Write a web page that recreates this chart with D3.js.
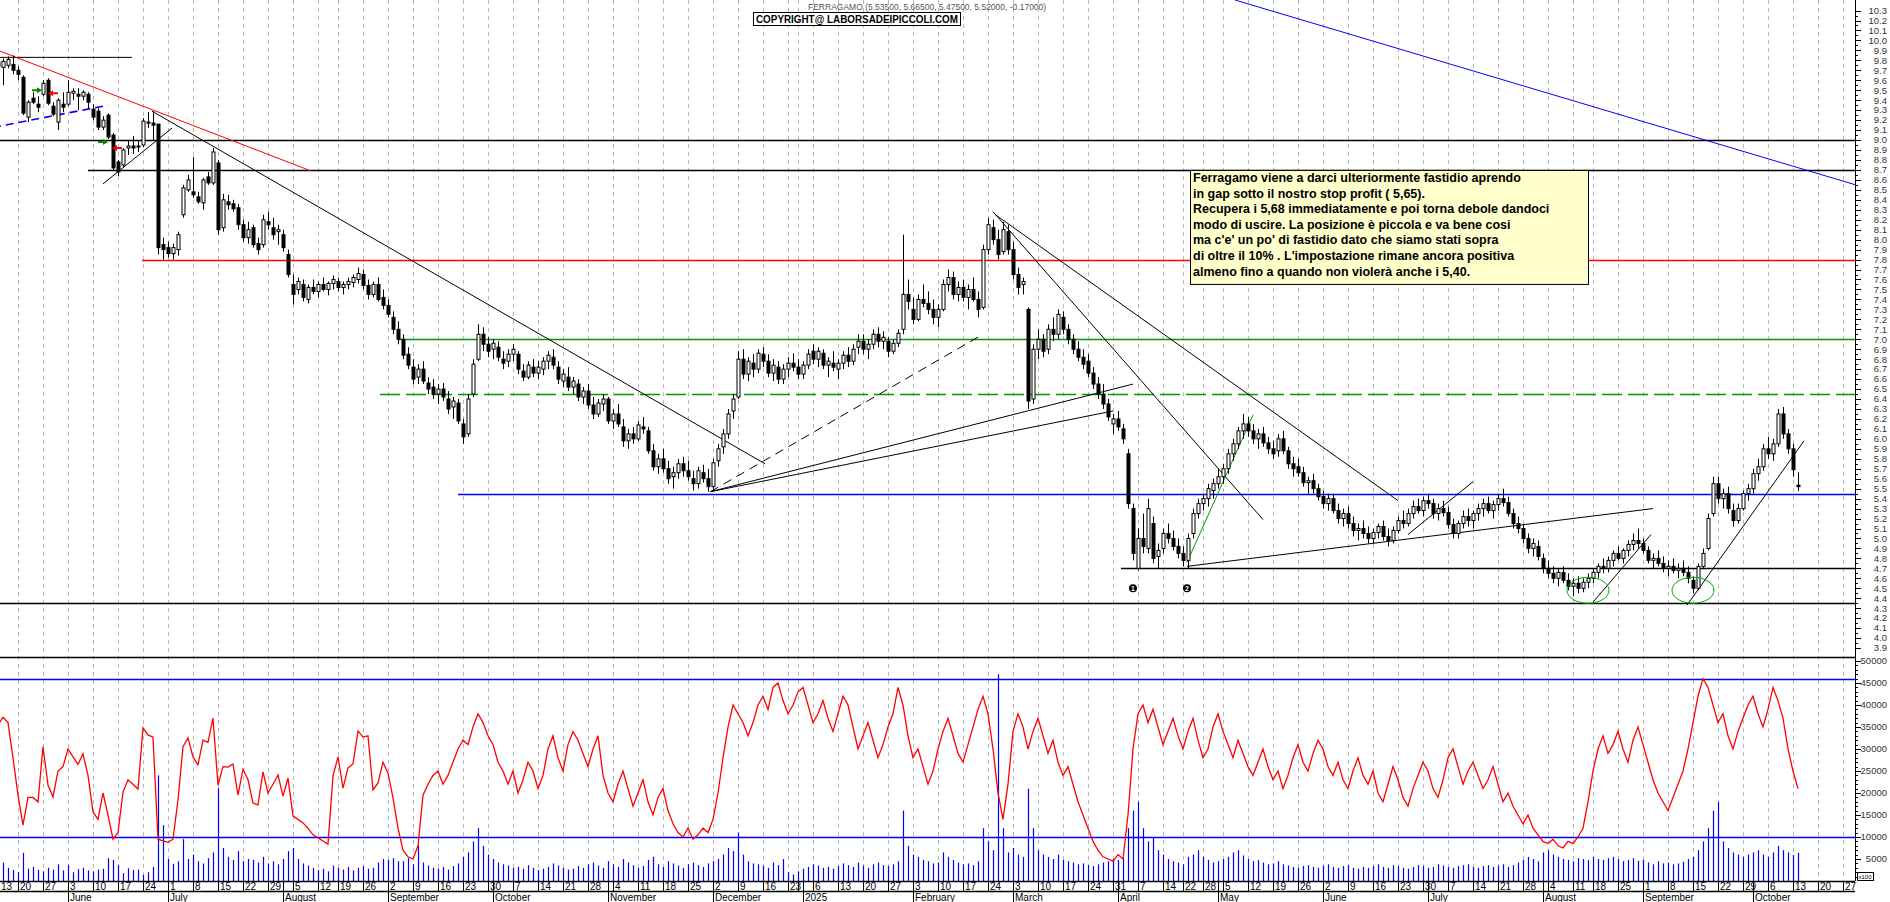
<!DOCTYPE html>
<html lang="it">
<head>
<meta charset="UTF-8">
<title>Ferragamo</title>
<script src="https://d3js.org/d3.v7.min.js"></script>
<style>
  body { margin: 0; background: #fff; }
  svg { display: block; font-family: "Liberation Sans", Arial, sans-serif; }
</style>
</head>
<body>
<svg id="chart" width="1890" height="902"></svg>
<script>
// ---- trading calendar (Borsa Italiana closures) ----
const firstDay = "2024-05-13";
const holidays = ["2024-08-15", "2024-12-24", "2024-12-25", "2024-12-26", "2024-12-31",
  "2025-01-01", "2025-04-18", "2025-04-21", "2025-05-01", "2025-08-15"];
const monthNames = ["2025", "February", "March", "April", "May", "June", "July",
  "August", "September", "October", "November", "December"];

// ---- daily prices, one row per week ----
const open = [
  9.72, 9.78, 9.73, 9.75, 9.76,
  9.70, 9.63, 9.23, 9.42, 9.36,
  9.46, 9.60, 9.34, 9.18, 9.36,
  9.36, 9.47, 9.46, 9.44, 9.46,
  9.31, 9.29, 9.13, 9.25, 9.05,
  8.78, 8.75, 8.92, 8.94, 8.93,
  8.95, 9.18, 9.17, 9.16, 7.95,
  7.92, 7.86, 7.90, 8.25, 8.50,
  8.48, 8.43, 8.37, 8.63, 8.57,
  8.77, 8.12, 8.38, 8.36, 8.32,
  8.15, 8.02, 8.12, 7.96, 7.95,
  8.18, 8.12, 8.08, 8.05, 7.85,
  7.55, 7.50, 7.55, 7.40, 7.52,
  7.48, 7.55, 7.50, 7.56,
  7.58, 7.52, 7.55, 7.57, 7.60,
  7.65, 7.54, 7.45, 7.55, 7.42,
  7.34, 7.22, 7.10, 7.00, 6.85,
  6.72, 6.62, 6.70, 6.56, 6.52,
  6.45, 6.50, 6.40, 6.32, 6.36,
  6.15, 6.05, 6.45, 6.80, 7.05,
  6.95, 6.90, 6.92, 6.80, 6.78,
  6.85, 6.85, 6.68, 6.62, 6.72,
  6.66, 6.70, 6.78, 6.82, 6.72,
  6.58, 6.62, 6.52, 6.55, 6.42,
  6.48, 6.34, 6.25, 6.35, 6.40,
  6.18, 6.25, 6.12, 5.98, 6.05,
  6.00, 6.12, 6.08, 5.88, 5.72,
  5.80, 5.70, 5.62, 5.66, 5.75,
  5.68, 5.60, 5.55, 5.66, 5.60,
  5.52, 5.78, 5.92, 6.05, 6.28,
  6.42, 6.80, 6.65, 6.76, 6.70,
  6.85, 6.78, 6.66, 6.72, 6.60,
  6.70, 6.76,
  6.72, 6.65, 6.74,
  6.88, 6.80, 6.86, 6.74, 6.76,
  6.70, 6.76, 6.84, 6.78, 6.92,
  6.98, 6.90, 6.95, 7.05, 6.98,
  6.98, 6.88, 6.96, 7.10, 7.45,
  7.30, 7.20, 7.40, 7.36, 7.30,
  7.22, 7.30, 7.55, 7.62, 7.45,
  7.52, 7.42, 7.50, 7.40, 7.32,
  7.90, 8.12, 8.00, 7.88, 8.08,
  7.90, 7.65, 7.55, 7.30, 6.40,
  6.90, 7.00, 6.90, 7.10, 7.05,
  7.22, 7.10, 7.00, 6.90, 6.82,
  6.78, 6.66, 6.55, 6.45, 6.35,
  6.15, 6.20, 6.10, 5.85, 5.30,
  4.70, 5.00, 4.90, 5.15, 4.82,
  4.90, 5.05, 5.00, 4.92,
  4.85, 4.78, 5.05, 5.25,
  5.35, 5.40, 5.48, 5.55,
  5.62, 5.70, 5.85, 5.95, 6.08,
  6.15, 6.08, 6.00, 6.05, 5.96,
  5.90, 5.88, 6.00, 5.88, 5.75,
  5.72, 5.66, 5.56, 5.58, 5.50,
  5.42, 5.35, 5.40, 5.28, 5.20,
  5.25, 5.15, 5.08, 5.10, 5.05,
  5.00, 5.06, 5.12, 5.02, 4.98,
  5.08, 5.18, 5.15, 5.25, 5.32,
  5.28, 5.38, 5.35, 5.25, 5.30,
  5.26, 5.14, 5.05, 5.15, 5.22,
  5.18, 5.25, 5.30, 5.35, 5.28,
  5.34, 5.40, 5.36, 5.25, 5.15,
  5.10, 5.00, 4.90, 4.92, 4.80,
  4.70, 4.65, 4.60, 4.66, 4.58,
  4.52, 4.55, 4.50, 4.56,
  4.60, 4.66, 4.72, 4.70, 4.78,
  4.85, 4.80, 4.88, 4.94, 4.98,
  4.95, 4.88, 4.78, 4.80, 4.75,
  4.70, 4.72, 4.68, 4.70, 4.66,
  4.58, 4.50, 4.72, 4.90, 5.25,
  5.55, 5.40, 5.45, 5.28, 5.18,
  5.30, 5.45, 5.50, 5.65, 5.72,
  5.90, 5.85, 5.95, 6.25, 6.05,
  5.90, 5.535
];
const high = [
  9.85, 9.86, 9.82, 9.84, 9.85,
  9.74, 9.65, 9.40, 9.48, 9.44,
  9.60, 9.62, 9.38, 9.42, 9.48,
  9.60, 9.52, 9.52, 9.50, 9.48,
  9.36, 9.32, 9.24, 9.27, 9.07,
  8.80, 8.92, 9.00, 9.04, 9.00,
  9.22, 9.28, 9.29, 9.16, 8.02,
  7.98, 7.96, 8.08, 8.55, 8.65,
  8.83, 8.48, 8.62, 8.68, 8.92,
  8.80, 8.46, 8.45, 8.40, 8.36,
  8.20, 8.18, 8.15, 8.02, 8.25,
  8.28, 8.22, 8.15, 8.10, 7.90,
  7.65, 7.62, 7.60, 7.55, 7.60,
  7.58, 7.62, 7.58, 7.64,
  7.62, 7.58, 7.62, 7.65, 7.72,
  7.70, 7.60, 7.58, 7.62, 7.50,
  7.40, 7.28, 7.18, 7.05, 6.92,
  6.80, 6.75, 6.78, 6.62, 6.60,
  6.55, 6.56, 6.48, 6.42, 6.40,
  6.20, 6.45, 6.80, 7.15, 7.12,
  7.02, 7.00, 6.98, 6.88, 6.90,
  6.95, 6.88, 6.75, 6.78, 6.80,
  6.78, 6.82, 6.88, 6.90, 6.78,
  6.70, 6.72, 6.62, 6.60, 6.52,
  6.55, 6.42, 6.40, 6.45, 6.42,
  6.30, 6.35, 6.20, 6.10, 6.12,
  6.18, 6.22, 6.12, 5.95, 5.85,
  5.90, 5.78, 5.72, 5.80, 5.82,
  5.78, 5.68, 5.72, 5.74, 5.70,
  5.80, 5.95, 6.10, 6.30, 6.45,
  6.88, 6.90, 6.82, 6.85, 6.90,
  6.92, 6.85, 6.80, 6.78, 6.75,
  6.82, 6.86,
  6.80, 6.78, 6.90,
  6.95, 6.92, 6.90, 6.82, 6.88,
  6.80, 6.88, 6.92, 6.95, 7.05,
  7.05, 7.00, 7.10, 7.12, 7.08,
  7.02, 7.00, 7.10, 8.05, 7.60,
  7.42, 7.45, 7.55, 7.48, 7.40,
  7.35, 7.60, 7.70, 7.68, 7.58,
  7.60, 7.55, 7.62, 7.48, 7.95,
  8.22, 8.20, 8.10, 8.18, 8.15,
  7.98, 7.72, 7.62, 7.32, 6.95,
  7.10, 7.05, 7.15, 7.22, 7.30,
  7.28, 7.15, 7.05, 6.98, 6.90,
  6.85, 6.72, 6.62, 6.55, 6.40,
  6.25, 6.28, 6.15, 5.90, 5.35,
  5.10, 5.25, 5.40, 5.22, 4.95,
  5.10, 5.15, 5.08, 5.00,
  4.92, 5.05, 5.30, 5.40,
  5.45, 5.55, 5.60, 5.70,
  5.75, 5.90, 6.00, 6.12, 6.25,
  6.22, 6.15, 6.10, 6.12, 6.02,
  5.98, 6.05, 6.08, 5.92, 5.82,
  5.80, 5.72, 5.62, 5.65, 5.55,
  5.48, 5.45, 5.45, 5.35, 5.30,
  5.32, 5.22, 5.15, 5.18, 5.12,
  5.10, 5.15, 5.18, 5.10, 5.12,
  5.22, 5.28, 5.30, 5.38, 5.40,
  5.42, 5.45, 5.40, 5.35, 5.38,
  5.32, 5.20, 5.18, 5.28, 5.30,
  5.28, 5.35, 5.40, 5.42, 5.38,
  5.45, 5.50, 5.42, 5.30, 5.22,
  5.15, 5.05, 5.00, 4.98, 4.85,
  4.78, 4.72, 4.70, 4.72, 4.65,
  4.60, 4.62, 4.60, 4.65,
  4.70, 4.75, 4.80, 4.82, 4.88,
  4.92, 4.90, 4.98, 5.05, 5.10,
  5.00, 4.92, 4.85, 4.88, 4.82,
  4.78, 4.80, 4.75, 4.78, 4.72,
  4.62, 4.75, 4.90, 5.25, 5.62,
  5.62, 5.50, 5.52, 5.35, 5.35,
  5.48, 5.55, 5.70, 5.80, 5.95,
  6.02, 6.00, 6.30, 6.32, 6.10,
  5.95, 5.665
];
const low = [
  9.65, 9.70, 9.55, 9.72, 9.66,
  9.60, 9.25, 9.18, 9.36, 9.28,
  9.44, 9.35, 9.24, 9.10, 9.28,
  9.34, 9.40, 9.30, 9.40, 9.32,
  9.20, 9.10, 9.10, 9.01, 8.70,
  8.64, 8.72, 8.85, 8.86, 8.88,
  8.93, 9.12, 9.00, 7.85, 7.80,
  7.82, 7.80, 7.84, 8.22, 8.48,
  8.42, 8.36, 8.30, 8.55, 8.55,
  8.05, 8.08, 8.30, 8.28, 8.10,
  7.98, 7.96, 7.92, 7.85, 7.92,
  8.10, 8.00, 7.95, 7.88, 7.62,
  7.35, 7.45, 7.38, 7.36, 7.45,
  7.42, 7.48, 7.44, 7.50,
  7.48, 7.45, 7.50, 7.52, 7.56,
  7.50, 7.40, 7.42, 7.38, 7.30,
  7.22, 7.05, 6.95, 6.80, 6.70,
  6.55, 6.55, 6.55, 6.45, 6.40,
  6.35, 6.38, 6.25, 6.20, 6.15,
  5.95, 6.02, 6.42, 6.78, 6.88,
  6.82, 6.80, 6.78, 6.70, 6.72,
  6.78, 6.65, 6.58, 6.60, 6.62,
  6.60, 6.64, 6.70, 6.70, 6.55,
  6.52, 6.48, 6.45, 6.38, 6.35,
  6.30, 6.20, 6.22, 6.28, 6.15,
  6.10, 6.12, 5.92, 5.90, 5.95,
  5.98, 6.05, 5.85, 5.68, 5.65,
  5.66, 5.55, 5.50, 5.60, 5.62,
  5.58, 5.48, 5.50, 5.56, 5.47,
  5.48, 5.72, 5.85, 6.00, 6.20,
  6.40, 6.60, 6.58, 6.62, 6.66,
  6.72, 6.62, 6.58, 6.55, 6.55,
  6.62, 6.68,
  6.60, 6.60, 6.70,
  6.75, 6.72, 6.70, 6.62, 6.68,
  6.60, 6.70, 6.72, 6.74, 6.85,
  6.85, 6.80, 6.90, 6.92, 6.90,
  6.82, 6.85, 6.92, 7.05, 7.30,
  7.15, 7.18, 7.32, 7.25, 7.15,
  7.12, 7.28, 7.48, 7.40, 7.38,
  7.38, 7.30, 7.38, 7.22, 7.30,
  7.85, 7.95, 7.80, 7.85, 7.85,
  7.60, 7.45, 7.45, 6.30, 6.35,
  6.80, 6.82, 6.85, 6.98, 7.00,
  7.05, 6.95, 6.85, 6.78, 6.70,
  6.62, 6.50, 6.40, 6.30, 6.18,
  6.05, 6.08, 5.95, 5.30, 4.78,
  4.68, 4.85, 4.85, 4.75, 4.70,
  4.85, 4.95, 4.88, 4.80,
  4.72, 4.70, 5.00, 5.20,
  5.28, 5.32, 5.40, 5.50,
  5.55, 5.65, 5.78, 5.90, 6.00,
  6.02, 5.95, 5.90, 5.92, 5.85,
  5.80, 5.82, 5.85, 5.70, 5.62,
  5.62, 5.52, 5.45, 5.45, 5.38,
  5.30, 5.28, 5.25, 5.15, 5.12,
  5.10, 5.02, 4.98, 5.00, 4.95,
  4.95, 5.00, 4.98, 4.92, 4.95,
  5.05, 5.10, 5.12, 5.20, 5.25,
  5.22, 5.30, 5.20, 5.18, 5.22,
  5.10, 5.00, 5.00, 5.10, 5.12,
  5.10, 5.18, 5.22, 5.25, 5.20,
  5.28, 5.32, 5.22, 5.10, 5.05,
  4.95, 4.85, 4.82, 4.78, 4.65,
  4.60, 4.55, 4.52, 4.55, 4.48,
  4.42, 4.45, 4.46, 4.50,
  4.55, 4.60, 4.65, 4.66, 4.72,
  4.78, 4.75, 4.82, 4.88, 4.90,
  4.85, 4.75, 4.70, 4.72, 4.66,
  4.62, 4.65, 4.60, 4.62, 4.55,
  4.45, 4.48, 4.70, 4.88, 5.22,
  5.35, 5.30, 5.25, 5.12, 5.15,
  5.28, 5.38, 5.45, 5.58, 5.68,
  5.80, 5.78, 5.92, 6.00, 5.85,
  5.62, 5.475
];
const close = [
  9.78, 9.74, 9.79, 9.81, 9.70,
  9.66, 9.27, 9.38, 9.38, 9.33,
  9.57, 9.37, 9.26, 9.40, 9.33,
  9.48, 9.49, 9.44, 9.48, 9.38,
  9.23, 9.13, 9.20, 9.03, 8.72,
  8.68, 8.90, 8.94, 8.92, 8.94,
  9.19, 9.17, 9.15, 7.92, 7.90,
  7.86, 7.92, 8.05, 8.52, 8.60,
  8.45, 8.38, 8.60, 8.57, 8.88,
  8.10, 8.40, 8.35, 8.31, 8.15,
  8.02, 8.10, 7.95, 7.90, 8.20,
  8.15, 8.05, 8.10, 7.92, 7.65,
  7.45, 7.58, 7.42, 7.52, 7.48,
  7.55, 7.50, 7.56, 7.60,
  7.52, 7.55, 7.58, 7.62, 7.66,
  7.54, 7.45, 7.55, 7.40, 7.34,
  7.25, 7.10, 7.00, 6.84, 6.74,
  6.60, 6.70, 6.58, 6.50, 6.45,
  6.50, 6.42, 6.30, 6.38, 6.18,
  6.02, 6.40, 6.75, 7.05, 6.95,
  6.88, 6.96, 6.82, 6.76, 6.85,
  6.90, 6.70, 6.62, 6.74, 6.66,
  6.72, 6.78, 6.84, 6.74, 6.60,
  6.65, 6.52, 6.58, 6.42, 6.48,
  6.34, 6.25, 6.36, 6.40, 6.18,
  6.25, 6.15, 5.98, 6.05, 6.00,
  6.14, 6.10, 5.88, 5.72, 5.80,
  5.70, 5.60, 5.66, 5.75, 5.68,
  5.62, 5.55, 5.68, 5.60, 5.52,
  5.76, 5.90, 6.05, 6.25, 6.40,
  6.80, 6.65, 6.78, 6.70, 6.86,
  6.78, 6.66, 6.74, 6.60, 6.70,
  6.76, 6.72,
  6.65, 6.74, 6.85,
  6.80, 6.88, 6.74, 6.78, 6.72,
  6.76, 6.84, 6.78, 6.90, 6.98,
  6.90, 6.95, 7.05, 6.98, 7.02,
  6.88, 6.96, 7.06, 7.45, 7.38,
  7.20, 7.40, 7.36, 7.30, 7.22,
  7.30, 7.55, 7.62, 7.45, 7.52,
  7.42, 7.50, 7.40, 7.30, 7.90,
  8.15, 8.00, 7.85, 8.10, 7.90,
  7.65, 7.52, 7.58, 6.38, 6.90,
  7.00, 6.88, 7.10, 7.05, 7.25,
  7.10, 7.00, 6.90, 6.82, 6.75,
  6.66, 6.55, 6.45, 6.35, 6.22,
  6.20, 6.12, 6.00, 5.35, 4.85,
  5.00, 4.92, 5.30, 4.80, 4.88,
  5.05, 5.00, 4.92, 4.85,
  4.78, 5.00, 5.25, 5.35,
  5.40, 5.50, 5.55, 5.62,
  5.70, 5.85, 5.95, 6.08, 6.15,
  6.08, 6.00, 6.05, 5.96, 5.90,
  5.85, 6.00, 5.88, 5.75, 5.70,
  5.66, 5.56, 5.58, 5.50, 5.42,
  5.35, 5.40, 5.28, 5.20, 5.25,
  5.15, 5.08, 5.10, 5.05, 5.00,
  5.06, 5.12, 5.02, 4.98, 5.08,
  5.18, 5.15, 5.25, 5.32, 5.28,
  5.38, 5.35, 5.25, 5.30, 5.26,
  5.14, 5.05, 5.15, 5.22, 5.18,
  5.25, 5.30, 5.35, 5.28, 5.34,
  5.40, 5.36, 5.25, 5.15, 5.10,
  5.00, 4.90, 4.95, 4.82, 4.70,
  4.65, 4.60, 4.66, 4.58, 4.52,
  4.55, 4.50, 4.56, 4.60,
  4.66, 4.72, 4.70, 4.78, 4.85,
  4.80, 4.88, 4.94, 4.98, 4.95,
  4.88, 4.78, 4.80, 4.75, 4.70,
  4.72, 4.68, 4.70, 4.66, 4.60,
  4.50, 4.72, 4.85, 5.20, 5.55,
  5.40, 5.45, 5.30, 5.18, 5.30,
  5.45, 5.50, 5.65, 5.72, 5.90,
  5.85, 5.95, 6.25, 6.05, 5.90,
  5.69, 5.52
];

// ---- volume (x100) and the red indicator line ----
const volume = [
  3500, 2800, 4200, 3000, 2500, 2000, 6400, 2800, 3200, 2500, 2200, 3000, 2600, 3800, 2400, 3600, 2000,
  2700, 3000, 2400, 2200, 2600, 2800, 5200, 4800, 3600, 1800, 2900, 2500, 2600, 1400, 2000, 3200,
  24000, 12700, 5000, 3900, 4500, 9500, 5000, 6000, 4500, 4000, 5200, 6500, 21100, 7500, 5500, 4800,
  6800, 4500, 5000, 4800, 4200, 5500, 4000, 4500, 3800, 5000, 6800, 7500, 5000, 4000, 3500, 3000,
  2500, 2800, 2200, 3500, 3000, 2600, 3200, 2400, 3000, 3400, 2800, 3000, 4200, 5000, 4800, 5200, 4500,
  4500, 5200, 3800, 8000, 4200, 3500, 3000, 2800, 3200, 2600, 3400, 4000, 5500, 6500, 9000, 12000, 8000, 6000,
  5000, 4200, 3800, 3500, 3000, 3200, 2800, 3600, 3000, 2500, 2800, 3200, 4000, 3500, 3000, 2600, 2800,
  3400, 3000, 3800, 4200, 3500, 3000, 4500, 3800, 3200, 5000, 4200, 3600, 3000, 3400, 4800, 5500, 3800,
  3200, 4500, 4000, 3500, 3000, 3800, 4200, 3600, 3200, 4000,
  4500, 5000, 6000, 7500, 6800, 11000, 6000, 4500, 4000, 3800, 3500, 3000, 4200, 3600, 5000, 2000, 1500,
  2200, 2800, 3200, 3800, 3500, 3000, 3200, 2800, 3400, 4000, 3600, 3200, 4200, 3500, 3000, 3800, 4200,
  3600, 3400, 3800, 4500, 16000, 8000,
  6000, 5500, 4800, 4500, 4000, 4200, 6500, 5500, 4800, 4200, 3800, 4000, 3600, 4500, 12000, 9000, 7000,
  47000, 12000, 6500, 7500, 6000, 5500, 21000, 12000, 7000, 6000,
  5500, 5000, 6000, 4800, 4500, 4200, 3800, 4000, 3600, 3400, 3800, 4200, 4500, 5000, 4800, 5200, 12000,
  16000, 18000, 12000, 9000, 10000, 7000, 6000, 5000, 4500, 4200, 3800, 5500, 6000, 7000, 5500, 4800, 4200, 4500,
  5000, 5500, 6500, 7000, 5800, 5000, 4500, 4800, 4200, 3800, 4000, 4500, 3800, 3500, 3200, 3000, 3400,
  3600, 3200, 3000, 3500, 3800, 3200, 3000, 3400, 3600, 3000, 2800, 3200, 3000, 3400, 3800, 3200, 3000,
  3600, 3400, 3000, 2800, 3200, 3600, 3400, 3000, 3200, 3800, 3500, 3200, 3000, 3400, 3600, 3800, 3200,
  3000, 3400, 3600, 3200,
  3500, 3800, 3200, 3600, 4200, 4800, 5500, 5000, 4500, 6500, 7000, 6000, 5500, 5000, 4800, 4500, 5200,
  5000, 4800, 5500, 5000, 4800, 5200, 5500, 5000, 4500, 4800, 5200, 4600, 4800, 4200, 3800, 4500, 4000,
  4200, 3800, 4000, 4400, 5000, 5500, 7000, 9000, 12000, 16000, 18000, 9000, 7500, 6500, 6000, 5500,
  6000, 6500, 7000, 6000, 5500, 6500, 8000, 7000, 6500, 5900, 6400
];
const volLine = [
  33000, 35500, 37200, 36000, 28000, 19500, 12700, 19000, 19000, 18000,
  30500, 21800, 19100, 25000, 26000, 30000, 28200, 26500, 28900, 24000,
  15700, 14000, 20000, 15000, 9500, 11000, 20200, 23000, 22000, 20900,
  34800, 33200, 32700, 9500, 9100, 8800, 9500, 18400, 30500, 32500,
  28200, 26400, 32000, 31500, 37000, 21800, 26000, 25900, 26600, 19500,
  25400, 23000, 17700, 17300, 24800, 20000, 22000, 24100, 19300, 23400,
  14800, 14000, 13200, 12000, 10500, 9800, 9100, 8400, 23900, 28200,
  21100, 25700, 26600, 34100, 32700, 33000, 20700, 22300, 27000, 24500,
  18900, 12000,
  7000, 5500, 5000, 8000, 19500, 22000, 24000, 25000, 22000, 24000, 27000,
  30000, 32000, 31000, 35000, 38000, 36000, 33000, 31000, 27000, 25000,
  22000, 25000, 20000, 23000, 27000, 25000, 21000, 24000, 30000, 33000,
  28000, 25000, 31000, 34000, 32000, 29000, 26000, 30000, 33000,
  24000, 20000, 18000, 22000, 25000,
  21000, 17000, 20000, 23000, 18000, 15000, 19000, 21000, 16000, 13000,
  11000, 10000, 12000, 9500, 10500, 12000, 11000, 14000, 20000,
  28000, 35000, 40000, 38000, 36000,
  33000, 36000, 40000, 42000, 39000, 44000, 45000, 41000, 38000, 40000,
  43000, 44000, 40000, 36000, 38000, 41000, 37000, 34000, 38000, 42000,
  40000, 35000, 30000, 33000, 36000, 32000, 28000, 31000, 35000, 38000,
  44000, 40000, 33000, 28000, 30000, 26000, 22000, 25000, 30000, 34000,
  37000, 33000, 29000, 27000, 31000, 35000, 39000, 42000, 38000, 30000,
  20000, 14000, 22000, 34000, 38000, 35000, 30000, 34000, 37000, 33000,
  29000, 32000, 27000, 24000, 26000, 22000, 18000, 15000, 12000, 9000,
  7000, 5500, 5000, 4500, 6000, 5000, 15000,
  30000, 38000, 40000, 36000, 39000, 35000, 31000, 34000,
  37000, 33000, 30000, 34000, 37000, 32000, 28000, 30000, 35000, 38000,
  34000, 31000, 28000, 32000, 29000, 26000, 24000, 27000, 30000, 26000,
  23000, 25000, 21000, 24000, 28000, 31000, 27000, 25000, 29000, 32000,
  30000, 26000, 24000, 27000, 23000, 21000, 25000, 28000, 24000, 22000,
  25000, 20000, 18000, 22000, 26000, 23000, 19000, 17000, 21000, 24000,
  27000, 25000, 21000, 19000, 23000, 28000, 30000, 26000, 22000, 25000,
  27000, 24000, 21000, 23000, 26000, 22000, 18000, 20000, 17000, 15000,
  13000, 15000, 12000, 10500, 9000, 8500, 9500, 8000, 7500, 9000,
  8500, 10000, 12000, 18000, 25000, 30000, 33000, 29000, 31000, 34000,
  30000, 27000, 32000, 35000, 31000, 27000, 23000, 20000, 18000, 16000,
  19000, 22000, 25000, 30000, 36000, 42000, 46000, 44000, 40000,
  36000, 38000, 33000, 30000, 34000, 37000, 40000, 42000, 38000, 35000,
  39000, 44000, 41000, 37000, 30000, 25000, 21000
];

// ---- drawn analysis: levels [price, from day], trend lines [day, price, day, price] ----
const levels = [
  { p: 9.0, from: 0, color: "#000" },
  { p: 8.7, from: 19, color: "#000" },
  { p: 7.8, from: 29.8, color: "#f00" },
  { p: 7.0, from: 81, color: "#090" },
  { p: 6.45, from: 77.4, color: "#090", dash: "20,6" },
  { p: 5.45, from: 93, color: "#00f" },
  { p: 4.7, from: 225.6, color: "#000" },
  { p: 4.35, from: 0, color: "#000" }
];
const trends = [
  { a: [0, 9.83], b: [27.8, 9.83], color: "#000" },
  { a: [0, 9.92], b: [63.6, 8.69], color: "#f00" },
  { a: [0, 9.126], b: [23, 9.35], color: "#00f", dash: "8,5", w: 1.6 },
  { a: [22, 8.56], b: [35.8, 9.12], color: "#000" },
  { a: [31.8, 9.29], b: [154.4, 5.75], color: "#000" },
  { a: [143.5, 5.47], b: [228, 6.55], color: "#000" },
  { a: [143.5, 5.47], b: [224, 6.28], color: "#000" },
  { a: [143.5, 5.47], b: [198, 7.05], color: "#000", dash: "9,6" },
  { a: [200, 8.28], b: [254, 5.19], color: "#000" },
  { a: [200.5, 8.25], b: [281, 5.38], color: "#000" },
  { a: [238.8, 4.76], b: [252, 6.24], color: "#090" },
  { a: [238.8, 4.72], b: [332, 5.30], color: "#000" },
  { a: [283, 5.04], b: [296, 5.57], color: "#000" },
  { a: [320, 4.36], b: [331.6, 5.04], color: "#000" },
  { a: [338.8, 4.33], b: [362.2, 5.98], color: "#000" },
  { a: [248.4, 10.406], b: [372.4, 8.552], color: "#00f" }
];
const signals = [
  { d: 8.8, p: 9.50, dir: 1, color: "#080" },
  { d: 12, p: 9.47, dir: -1, color: "#f00" },
  { d: 22, p: 8.98, dir: 1, color: "#080" },
  { d: 24.8, p: 8.92, dir: -1, color: "#f00" }
];
const markers = [{ d: 228, p: 4.50, t: "1" }, { d: 238.8, p: 4.50, t: "2" }];
const ellipses = [{ d: 319, p: 4.48 }, { d: 340, p: 4.48 }];
const volLevels = [46000, 10000];
const note = [
  "Ferragamo viene a darci ulteriormente fastidio aprendo",
  "in gap sotto il nostro stop profit ( 5,65).",
  "Recupera i 5,68 immediatamente e poi torna debole dandoci",
  "modo di uscire. La posizione è piccola e va bene cosi",
  "ma c'e' un po' di fastidio dato che siamo stati sopra",
  "di oltre il 10% . L'impostazione rimane ancora positiva",
  "almeno fino a quando non violerà anche i 5,40."
];

// ---- build calendar ----
const days = [];
for (let d = new Date(firstDay + "T00:00:00Z"); days.length < 380; d.setUTCDate(d.getUTCDate() + 1)) {
  const wd = d.getUTCDay(), s = d.toISOString().slice(0, 10);
  if (wd === 0 || wd === 6 || holidays.includes(s)) continue;
  days.push(new Date(d));
}

const svg = d3.select("#chart");
const axisX = 1855, priceBottom = 657, volBottom = 881;
const x = d3.scaleLinear().domain([0, 372.4]).range([-7, axisX]);
const y = d3.scaleLinear().domain([3.81, 10.406]).range([priceBottom, 0]);
const yv = d3.scaleLinear().domain([0, 50000]).range([volBottom, 661]);

const defs = svg.append("defs");
defs.append("clipPath").attr("id", "cp").append("rect").attr("x", 0).attr("y", 0).attr("width", axisX).attr("height", priceBottom);
defs.append("clipPath").attr("id", "cv").append("rect").attr("x", 0).attr("y", priceBottom).attr("width", axisX).attr("height", volBottom - priceBottom);

// week and month boundaries
const weekStarts = [], monthStarts = [];
days.forEach((d, i) => {
  if (i === 0 || d.getUTCDay() <= days[i - 1].getUTCDay()) weekStarts.push(i);
  if (i > 0 && d.getUTCMonth() !== days[i - 1].getUTCMonth()) monthStarts.push(i);
});
const px = i => Math.round(x(i)) + 0.5;
const visWeeks = weekStarts.filter(i => x(i) > -12 && x(i) < axisX);

// dashed grid
svg.append("g").selectAll("line").data(visWeeks.filter(i => x(i) >= 0)).join("line")
  .attr("x1", px).attr("x2", px).attr("y1", 0).attr("y2", volBottom)
  .attr("stroke", "#b9b9b9").attr("stroke-dasharray", "4,4");

// price panel
const gp = svg.append("g").attr("clip-path", "url(#cp)");
gp.selectAll(".lvl").data(levels).join("line")
  .attr("x1", d => x(d.from)).attr("x2", axisX)
  .attr("y1", d => Math.round(y(d.p)) + 0.5).attr("y2", d => Math.round(y(d.p)) + 0.5)
  .attr("stroke", d => d.color).attr("stroke-width", 1.3)
  .attr("stroke-dasharray", d => d.dash || null);

gp.selectAll(".tr").data(trends).join("line")
  .attr("x1", d => x(d.a[0])).attr("y1", d => y(d.a[1]))
  .attr("x2", d => x(d.b[0])).attr("y2", d => y(d.b[1]))
  .attr("stroke", d => d.color).attr("stroke-width", d => d.w || 1)
  .attr("stroke-dasharray", d => d.dash || null);

const n = Math.min(open.length, high.length, low.length, close.length);
const idx = d3.range(n);
gp.append("g").selectAll("line").data(idx).join("line")
  .attr("x1", i => px(i)).attr("x2", i => px(i))
  .attr("y1", i => y(Math.max(high[i], open[i], close[i])))
  .attr("y2", i => y(Math.min(low[i], open[i], close[i])))
  .attr("stroke", "#000");
gp.append("g").selectAll("rect").data(idx).join("rect")
  .attr("x", i => px(i) - 1.5).attr("width", 3)
  .attr("y", i => y(Math.max(open[i], close[i])))
  .attr("height", i => Math.max(1, Math.abs(y(open[i]) - y(close[i]))))
  .attr("fill", i => close[i] >= open[i] ? "#fff" : "#000")
  .attr("stroke", "#000").attr("stroke-width", 1);

// buy / sell arrows
signals.forEach(s => {
  const cx = x(s.d), cy = y(s.p), tip = cx + s.dir * 5, tail = cx - s.dir * 5;
  gp.append("line").attr("x1", tail).attr("x2", cx).attr("y1", cy).attr("y2", cy)
    .attr("stroke", s.color).attr("stroke-width", 2);
  gp.append("path").attr("d", `M${tip},${cy}L${cx},${cy - 3}L${cx},${cy + 3}Z`).attr("fill", s.color);
});

// numbered lows and ellipses
const mk = gp.selectAll(".mk").data(markers).join("g").attr("transform", d => `translate(${x(d.d)},${y(d.p)})`);
mk.append("circle").attr("r", 4).attr("fill", "#000");
mk.append("text").attr("text-anchor", "middle").attr("dy", "0.35em").attr("font-size", 7)
  .attr("font-weight", "bold").attr("fill", "#fff").text(d => d.t);
gp.selectAll(".el").data(ellipses).join("ellipse")
  .attr("cx", d => x(d.d)).attr("cy", d => y(d.p))
  .attr("rx", 21).attr("ry", 13).attr("fill", "none").attr("stroke", "#0a0").attr("stroke-width", 1);

// note box
const nx = x(239.4), ny = y(8.7);
svg.append("rect").attr("x", nx + 0.5).attr("y", ny + 0.5).attr("width", 398).attr("height", 114)
  .attr("fill", "#ffffcc").attr("stroke", "#000");
svg.append("g").selectAll("text").data(note).join("text")
  .attr("x", nx + 3).attr("y", (d, k) => ny + 12 + k * 15.6)
  .attr("font-size", 12.5).attr("font-weight", "bold").attr("fill", "#000").text(d => d);

// separator between panels
svg.append("line").attr("x1", 0).attr("x2", axisX).attr("y1", priceBottom + 0.5).attr("y2", priceBottom + 0.5).attr("stroke", "#000").attr("stroke-width", 1.3);

// volume panel
const gv = svg.append("g").attr("clip-path", "url(#cv)");
gv.selectAll(".vl").data(volLevels).join("line")
  .attr("x1", 0).attr("x2", axisX).attr("y1", v => Math.round(yv(v)) + 0.5).attr("y2", v => Math.round(yv(v)) + 0.5)
  .attr("stroke", "#00f").attr("stroke-width", 1.3);
gv.append("g").selectAll("line").data(d3.range(volume.length)).join("line")
  .attr("x1", i => px(i)).attr("x2", i => px(i)).attr("y1", volBottom).attr("y2", i => yv(volume[i]))
  .attr("stroke", "#00f").attr("stroke-width", 1.2);
gv.append("path").datum(volLine)
  .attr("d", d3.line().x((v, i) => x(i)).y(v => yv(v)))
  .attr("fill", "none").attr("stroke", "#f00").attr("stroke-width", 1.3);

// right axes
svg.append("line").attr("x1", axisX + 0.5).attr("x2", axisX + 0.5).attr("y1", 0).attr("y2", volBottom).attr("stroke", "#000");
const pt = d3.range(78, 207).map(k => k / 20).filter(p => y(p) > 2 && y(p) < priceBottom - 4);
svg.append("g").selectAll("line").data(pt).join("line")
  .attr("x1", axisX).attr("x2", p => axisX + (Math.round(p * 20) % 2 === 0 ? 6 : 3))
  .attr("y1", p => Math.round(y(p)) + 0.5).attr("y2", p => Math.round(y(p)) + 0.5).attr("stroke", "#000");
svg.append("g").selectAll("text").data(pt.filter(p => Math.round(p * 20) % 2 === 0)).join("text")
  .attr("x", 1887).attr("y", p => y(p)).attr("dy", "0.35em").attr("text-anchor", "end")
  .attr("font-size", 9.5).attr("fill", "#333").text(p => p.toFixed(1));
const vt = d3.range(1000, 51000, 1000);
svg.append("g").selectAll("line").data(vt).join("line")
  .attr("x1", axisX).attr("x2", v => axisX + (v % 5000 === 0 ? 6 : 3))
  .attr("y1", v => Math.round(yv(v)) + 0.5).attr("y2", v => Math.round(yv(v)) + 0.5).attr("stroke", "#000");
svg.append("g").selectAll("text").data(vt.filter(v => v % 5000 === 0)).join("text")
  .attr("x", 1887).attr("y", v => yv(v)).attr("dy", "0.35em").attr("text-anchor", "end")
  .attr("font-size", 9.5).attr("fill", "#333").text(v => v);
svg.append("rect").attr("x", 1857.5).attr("y", 872.5).attr("width", 16).attr("height", 8).attr("fill", "#fff").attr("stroke", "#000");
svg.append("text").attr("x", 1858.5).attr("y", 879).attr("font-size", 6).text("x100");

// date axis
const ax = svg.append("g");
ax.append("line").attr("x1", 0).attr("x2", axisX).attr("y1", volBottom + 0.5).attr("y2", volBottom + 0.5).attr("stroke", "#000").attr("stroke-width", 1.3);
ax.append("line").attr("x1", 0).attr("x2", axisX).attr("y1", 891.5).attr("y2", 891.5).attr("stroke", "#000").attr("stroke-width", 1.3);
ax.selectAll(".wk").data(visWeeks).join("line")
  .attr("x1", px).attr("x2", px).attr("y1", volBottom).attr("y2", 891).attr("stroke", "#000");
let lastLab = -100;
visWeeks.forEach(i => {
  const lx = Math.max(1, x(i) + 2);
  if (lx - lastLab < 12) return;
  lastLab = lx;
  ax.append("text").attr("x", lx).attr("y", 889.5).attr("font-size", 10).text(days[i].getUTCDate());
});
const visMonths = monthStarts.filter(i => x(i) > 0 && x(i) < axisX);
ax.selectAll(".mo").data(visMonths).join("line")
  .attr("x1", px).attr("x2", px).attr("y1", volBottom).attr("y2", 902).attr("stroke", "#000");
ax.selectAll(".mt").data(visMonths).join("text")
  .attr("x", i => x(i) + 2).attr("y", 901).attr("font-size", 10)
  .text(i => monthNames[days[i].getUTCMonth()]);

// title and copyright
svg.append("text").attr("x", 808).attr("y", 10).attr("font-size", 8.5).attr("fill", "#555")
  .text("FERRAGAMO (5.53500, 5.66500, 5.47500, 5.52000, -0.17000)");
svg.append("rect").attr("x", 753.5).attr("y", 12.5).attr("width", 207).attr("height", 13).attr("fill", "#fff").attr("stroke", "#000");
svg.append("text").attr("x", 756).attr("y", 23).attr("font-size", 11).attr("font-weight", "bold")
  .attr("textLength", 202).attr("lengthAdjust", "spacingAndGlyphs")
  .text("COPYRIGHT@ LABORSADEIPICCOLI.COM");
</script>
</body>
</html>
